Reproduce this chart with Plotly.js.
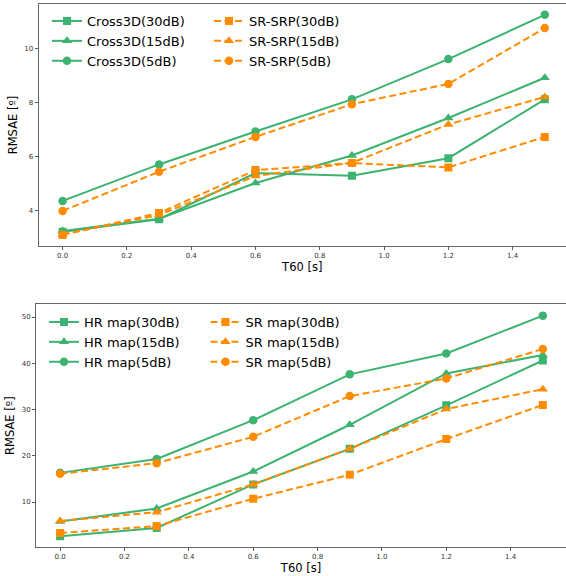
<!DOCTYPE html>
<html>
<head>
<meta charset="utf-8">
<script src="https://cdn.plot.ly/plotly-3.0.1.min.js"></script>
<style>html,body{margin:0;padding:0;background:#fff;}#chart{width:566px;height:576px;}</style>
</head>
<body>
<div id="chart"></div>
<script>
// ---- data ----
const t60 = [0.0, 0.3, 0.6, 0.9, 1.2, 1.5];

const cross30 = [3.21, 3.67, 5.38, 5.28, 5.93, 8.11];
const cross15 = [3.24, 3.69, 5.01, 6.03, 7.42, 8.91];
const cross5  = [4.35, 5.70, 6.92, 8.11, 9.60, 11.24];
const srsrp30 = [3.09, 3.90, 5.49, 5.75, 5.59, 6.72];
const srsrp15 = [3.11, 3.83, 5.27, 5.76, 7.18, 8.20];
const srsrp5  = [3.98, 5.43, 6.72, 7.93, 8.68, 10.75];

const hr30 = [2.6, 4.4, 13.8, 21.5, 30.9, 40.6];
const hr15 = [5.8, 8.6, 16.6, 26.7, 37.8, 41.8];
const hr5  = [16.3, 19.3, 27.7, 37.6, 42.1, 50.3];
const sr30 = [3.3, 4.8, 10.7, 15.9, 23.6, 31.0];
const sr15 = [5.9, 7.8, 13.8, 21.5, 30.1, 34.4];
const sr5  = [16.1, 18.4, 24.1, 32.9, 36.7, 43.1];

const topNames = ['Cross3D(30dB)', 'Cross3D(15dB)', 'Cross3D(5dB)', 'SR-SRP(30dB)', 'SR-SRP(15dB)', 'SR-SRP(5dB)'];
const botNames = ['HR map(30dB)', 'HR map(15dB)', 'HR map(5dB)', 'SR map(30dB)', 'SR map(15dB)', 'SR map(5dB)'];
const xTicks = [0.0, 0.2, 0.4, 0.6, 0.8, 1.0, 1.2, 1.4];
const xTickText = ['0.0', '0.2', '0.4', '0.6', '0.8', '1.0', '1.2', '1.4'];
const topYTicks = [4, 6, 8, 10];
const botYTicks = [10, 20, 30, 40, 50];

// ---- styles ----
const GREEN = '#3cb371';
const ORANGE = '#ff8c00';
const symbols = ['square', 'triangle-up', 'circle'];
const sizes = [8, 9, 8.5];
const FONT = 'DejaVu Sans, sans-serif';

function mk(x, y, name, i, orange, xa, ya, leg) {
  return {
    x: x, y: y, name: name, type: 'scatter', mode: 'lines+markers',
    xaxis: xa, yaxis: ya, legend: leg,
    line: {color: orange ? ORANGE : GREEN, width: 2, dash: orange ? '7px,3.5px' : 'solid'},
    marker: {symbol: symbols[i], size: sizes[i], color: orange ? ORANGE : GREEN}
  };
}

const topG = [cross30, cross15, cross5];
const topO = [srsrp30, srsrp15, srsrp5];
const botG = [hr30, hr15, hr5];
const botO = [sr30, sr15, sr5];

const data = [];
for (let i = 0; i < 3; i++) data.push(mk(t60, topG[i], topNames[i], i, false, 'x', 'y', 'legend'));
for (let i = 0; i < 3; i++) data.push(mk(t60, topO[i], topNames[i + 3], i, true, 'x', 'y', 'legend2'));
for (let i = 0; i < 3; i++) data.push(mk(t60, botG[i], botNames[i], i, false, 'x2', 'y2', 'legend3'));
for (let i = 0; i < 3; i++) data.push(mk(t60, botO[i], botNames[i + 3], i, true, 'x2', 'y2', 'legend4'));

const W = 566, H = 576;
function axBase() {
  return {
    showgrid: false, zeroline: false, showline: true, linecolor: '#666', linewidth: 1,
    ticks: 'outside', ticklen: 3, tickwidth: 0.8, tickcolor: '#333',
    tickfont: {family: FONT, size: 7, color: '#333'}, automargin: false
  };
}
function xax(dom, rng, anchor) {
  return Object.assign(axBase(), {
    domain: dom, range: rng, anchor: anchor, mirror: true,
    tickmode: 'array', tickvals: xTicks, ticktext: xTickText,
    title: {text: 'T60 [s]', font: {family: FONT, size: 11.5, color: '#000'}, standoff: 3}
  });
}
function yax(dom, rng, anchor, ticks) {
  return Object.assign(axBase(), {
    domain: dom, range: rng, anchor: anchor,
    tickmode: 'array', tickvals: ticks,
    title: {text: 'RMSAE [º]', font: {family: FONT, size: 11.5, color: '#000'}, standoff: 4}
  });
}
function leg(px, py) {
  return {
    xref: 'paper', yref: 'paper', x: px / W, y: 1 - py / H,
    xanchor: 'left', yanchor: 'top', bgcolor: 'rgba(0,0,0,0)', borderwidth: 0,
    font: {family: FONT, size: 13, color: '#000'}, itemwidth: 30, tracegroupgap: 0
  };
}

const layout = {
  width: W, height: H,
  margin: {l: 0, r: 0, t: 0, b: 0, pad: 0, autoexpand: false},
  paper_bgcolor: '#fff', plot_bgcolor: '#fff',
  showlegend: true,
  xaxis: xax([38.5 / W, 1], [-0.075, 1.566], 'y'),
  yaxis: yax([1 - 246 / H, 1 - 4 / H], [2.68, 11.64], 'x', topYTicks),
  xaxis2: xax([36 / W, 1], [-0.075, 1.572], 'y2'),
  yaxis2: yax([1 - 547 / H, 1 - 304.3 / H], [0.27, 52.75], 'x2', botYTicks),
  legend: leg(47, 6),
  legend2: leg(209, 6),
  legend3: leg(44, 307),
  legend4: leg(205.5, 307)
};

Plotly.newPlot('chart', data, layout, {displayModeBar: false, staticPlot: true});
</script>
</body>
</html>
